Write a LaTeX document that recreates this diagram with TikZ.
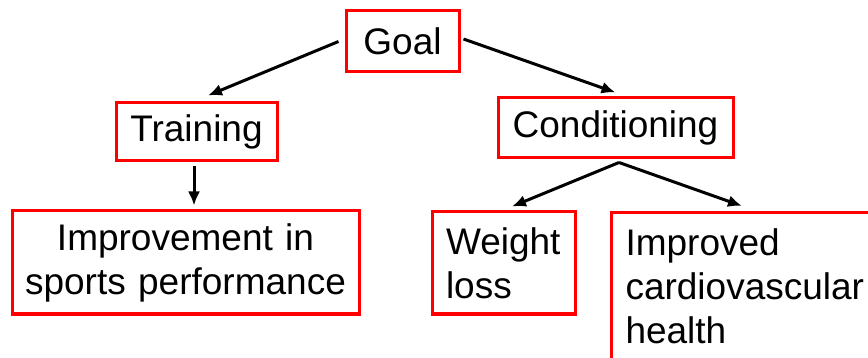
\documentclass[tikz,border=0pt]{standalone}
\usepackage{fontspec}
\setmainfont{Liberation Sans}
\usetikzlibrary{arrows.meta}
\tikzset{
  box/.style={draw=red, line width=3pt, inner sep=0pt,
    font=\fontsize{37}{44}\selectfont},
  leaf/.style={box, text width=#1},
  flow/.style={-{Latex[length=14pt,width=12pt]}, line width=3pt},
}

\begin{document}
\begin{tikzpicture}[x=1pt, y=-1pt]
    \useasboundingbox (0,0) rectangle (868,358);
    \fill[white] (-5,-5) rectangle (873,363);
    \node[box, minimum width=113pt, minimum height=61pt] (goal) at (402.5,41.5) {Goal};
    \node[box, minimum width=161pt, minimum height=58pt] (training) at (196.5,132) {Training};
    \node[box, minimum width=235pt, minimum height=60pt] (conditioning) at (615.5,128) {Conditioning};
    \node[leaf=335pt, align=center, minimum width=347pt, minimum height=103pt] (improvement)
      at (185.5,262.5) {Improvement in\\sports performance};
    \node[leaf=115pt, align=left, minimum width=143pt, minimum height=102pt] (weightloss)
      at (503.5,263) {Weight\\loss};
    \node[leaf=320pt, align=left, inner xsep=14pt, inner ysep=16pt, anchor=north west] (cardio)
      at (610,211) {Improved\\cardiovascular\\health\\[40pt]};
    \draw[flow] ([xshift=-6pt]goal.west) -- ([xshift=11.5pt,yshift=6pt]training.north);
    \draw[flow] ([xshift=3pt,yshift=2.5pt]goal.east) -- ([yshift=4pt]conditioning.north);
    \draw[flow] ([xshift=-2.5pt,yshift=-4pt]training.south) -- ([xshift=8.5pt,yshift=4pt]improvement.north);
    \draw[flow] ([xshift=3.5pt,yshift=-3pt]conditioning.south) -- ([xshift=8.5pt,yshift=4pt]weightloss.north);
    \draw[flow] ([xshift=3.5pt,yshift=-3pt]conditioning.south) -- ([xshift=132pt,yshift=5pt]cardio.north west);
  \end{tikzpicture}
\end{document}
